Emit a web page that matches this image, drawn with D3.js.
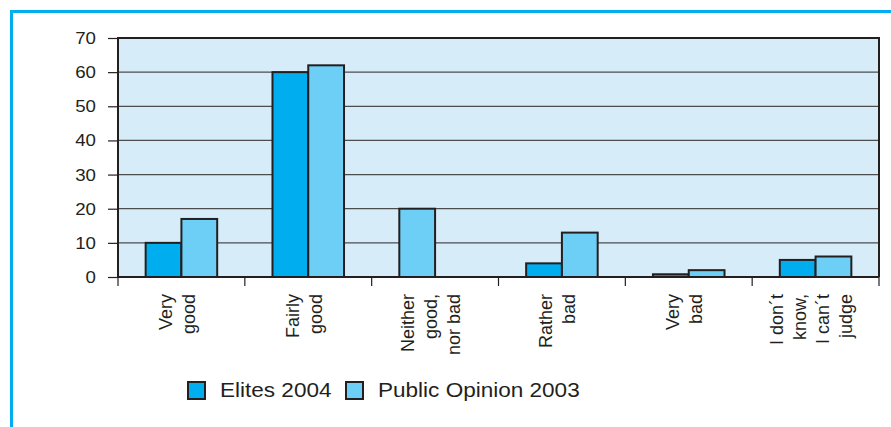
<!DOCTYPE html>
<html>
<head>
<meta charset="utf-8">
<script src="https://cdn.jsdelivr.net/npm/d3@7"></script>
<style>
  html, body { margin: 0; padding: 0; background: #fff; }
  svg { display: block; }
  text { font-family: "Liberation Sans", Arial, Helvetica, sans-serif; fill: #231F20; }
</style>
</head>
<body>
<svg id="chart" width="891" height="427"></svg>
<script>
// Assessment categories (each entry is the wrapped label lines)
const categories = [
  ["Very", "good"],
  ["Fairly", "good"],
  ["Neither", "good,", "nor bad"],
  ["Rather", "bad"],
  ["Very", "bad"],
  ["I don´t", "know,", "I can´t", "judge"]
];
const seriesNames = ["Elites 2004", "Public Opinion 2003"];
// null = answer option not offered in that survey
const elites2004 = [10, 60, null, 4, 0.8, 5];
const publicOpinion2003 = [17, 62, 20, 13, 2, 6];
const yTicks = [0, 10, 20, 30, 40, 50, 60, 70];

const colors = ["#00AEEF", "#6DCFF6"];
const ink = "#231F20";

const svg = d3.select("#chart");

// outer cyan frame
svg.append("path")
  .attr("d", "M11.5,440 L11.5,11.5 L900,11.5")
  .attr("fill", "none")
  .attr("stroke", "#00AEEF")
  .attr("stroke-width", 3);

const plot = { left: 118, right: 879, top: 38, bottom: 277 };

const x = d3.scaleBand()
  .domain(d3.range(categories.length))
  .range([plot.left, plot.right])
  .paddingInner(0).paddingOuter(0);

const y = d3.scaleLinear()
  .domain([0, 70])
  .range([plot.bottom, plot.top]);

const barW = x.bandwidth() * 0.282;
const inner = d3.scaleBand()
  .domain([0, 1])
  .range([x.bandwidth() / 2 - barW, x.bandwidth() / 2 + barW]);

// plot background
svg.append("rect")
  .attr("x", plot.left).attr("y", plot.top)
  .attr("width", plot.right - plot.left)
  .attr("height", plot.bottom - plot.top)
  .attr("fill", "#D6ECF9");

// gridlines
svg.append("g")
  .selectAll("line")
  .data(yTicks.filter(t => t > 0 && t < 70))
  .join("line")
  .attr("x1", plot.left).attr("x2", plot.right)
  .attr("y1", d => y(d)).attr("y2", d => y(d))
  .attr("stroke", "#4d4d4f")
  .attr("stroke-width", 1.2);

// bars: the bars present in a category fill its slots from the left
const series = [elites2004, publicOpinion2003];
const barData = [];
categories.forEach((c, i) => {
  let slot = 0;
  series.forEach((vals, si) => {
    if (vals[i] == null) return;
    barData.push({ i, si, v: vals[i], slot: slot++ });
  });
});
svg.append("g")
  .selectAll("rect")
  .data(barData)
  .join("rect")
  .attr("x", d => x(d.i) + inner(d.slot))
  .attr("y", d => y(d.v))
  .attr("width", inner.bandwidth())
  .attr("height", d => y(0) - y(d.v))
  .attr("fill", d => colors[d.si])
  .attr("stroke", ink)
  .attr("stroke-width", 2);

// plot border (top, left, right)
svg.append("path")
  .attr("d", `M${plot.left},${plot.bottom} L${plot.left},${plot.top} L${plot.right},${plot.top} L${plot.right},${plot.bottom}`)
  .attr("fill", "none").attr("stroke", ink).attr("stroke-width", 2);

// y axis
const yAxis = d3.axisLeft(y).tickValues(yTicks).tickSize(10).tickPadding(0);
const yg = svg.append("g").attr("transform", `translate(${plot.left},0)`).call(yAxis);
yg.select(".domain").remove();
yg.selectAll(".tick line").attr("stroke", ink).attr("stroke-width", 1.2);
yg.selectAll(".tick text")
  .attr("x", null)
  .attr("font-size", 17)
  .attr("fill", ink)
  .attr("font-family", "Liberation Sans, Arial, sans-serif")
  .attr("transform", "translate(-22,0) scale(1.1,1)");

// x axis: baseline and boundary ticks
const xBounds = d3.range(categories.length + 1).map(i => plot.left + i * x.bandwidth());
svg.append("g")
  .selectAll("line")
  .data(xBounds)
  .join("line")
  .attr("x1", d => d).attr("x2", d => d)
  .attr("y1", plot.bottom).attr("y2", plot.bottom + 9)
  .attr("stroke", ink).attr("stroke-width", 1.2);
svg.append("line")
  .attr("x1", plot.left).attr("x2", plot.right)
  .attr("y1", plot.bottom).attr("y2", plot.bottom)
  .attr("stroke", ink).attr("stroke-width", 2);

// rotated category labels
const lineGap = 23;
const labels = svg.append("g")
  .selectAll("text")
  .data(categories)
  .join("text")
  .attr("transform", (d, i) => `translate(${x(i) + x.bandwidth() / 2 + 2},294) rotate(-90)`)
  .attr("text-anchor", "end")
  .attr("font-size", 18);
labels.selectAll("tspan")
  .data(d => d.map((t, j) => ({ t, j, n: d.length })))
  .join("tspan")
  .attr("x", 0)
  .attr("y", d => (d.j - (d.n - 1) / 2) * lineGap)
  .text(d => d.t);

// legend
const legend = svg.append("g").attr("transform", "translate(187,381)");
const items = legend.selectAll("g")
  .data(seriesNames)
  .join("g")
  .attr("transform", (d, i) => `translate(${i * 158},0)`);
items.append("rect")
  .attr("x", 1).attr("y", 1)
  .attr("width", 17).attr("height", 17)
  .attr("fill", (d, i) => colors[i])
  .attr("stroke", ink).attr("stroke-width", 2);
items.append("text")
  .attr("transform", "translate(33,16) scale(1.1,1)")
  .attr("font-size", 20.5)
  .text(d => d);
</script>
</body>
</html>
